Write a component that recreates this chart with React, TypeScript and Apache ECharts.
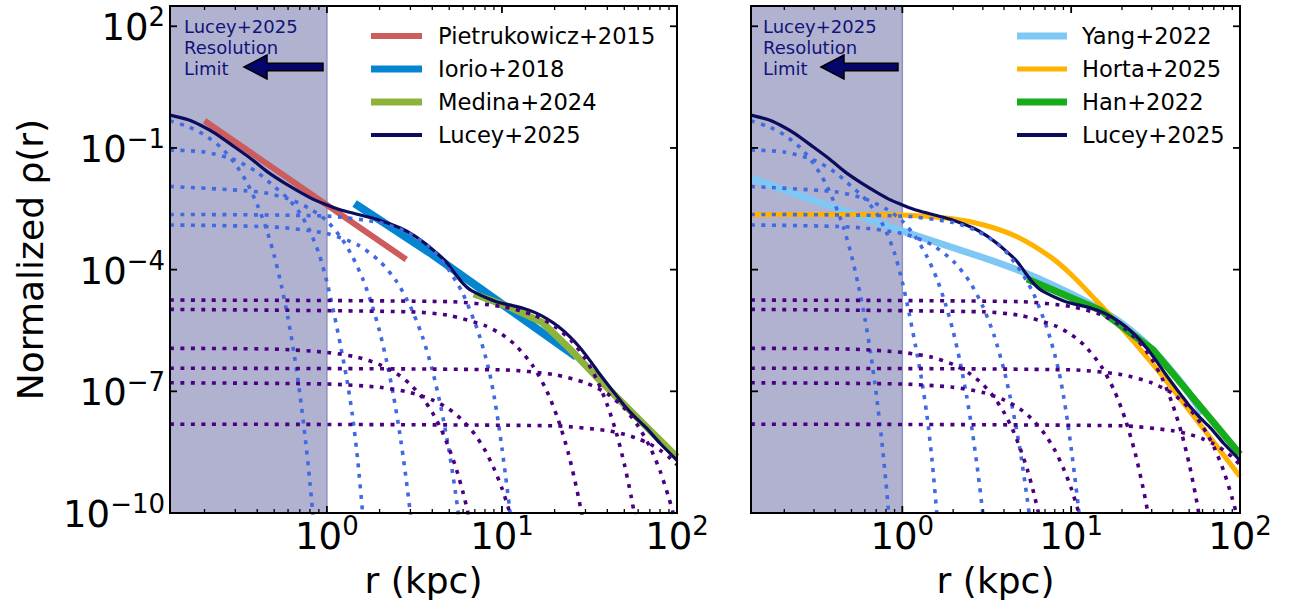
import React, { useEffect, useRef } from "react";
import * as echarts from "echarts";

type Pt = [number, number];

const FONT = '"DejaVu Sans", sans-serif';
const R_MIN = 0.127;
const R_MAX = 100;
const RHO_MIN = 1e-10;
const RHO_MAX = 316;
const RES_LIMIT = 1;

const xMajorTicks = [1, 10, 100];
const xMinorTicks = [0.2, 0.3, 0.4, 0.5, 0.6, 0.7, 0.8, 0.9, 2, 3, 4, 5, 6, 7, 8, 9, 20, 30, 40, 50, 60, 70, 80, 90];
const yMajorTicks = [1e-10, 1e-7, 1e-4, 1e-1, 1e2];
const yLabelExponents = [-10, -7, -4, -1, 2];
const xLabelExponents = [0, 1, 2];

// all curves: [r (kpc), log10 of normalized rho]
const lucey: Pt[] = [[0.127,-0.19],[0.16,-0.3],[0.19,-0.44],[0.23,-0.64],[0.296,-0.97],[0.37,-1.27],[0.458,-1.59],[0.58,-1.88],[0.71,-2.1],[0.85,-2.28],[1.01,-2.41],[1.25,-2.55],[1.57,-2.66],[2.0,-2.78],[2.65,-2.98],[3.2,-3.18],[3.86,-3.44],[4.4,-3.65],[4.81,-3.81],[5.4,-4.1],[5.99,-4.34],[6.5,-4.48],[7.14,-4.58],[8.2,-4.7],[9.29,-4.79],[11,-4.87],[13.2,-4.95],[15.5,-5.06],[17.9,-5.2],[21,-5.4],[24.4,-5.65],[28,-5.93],[31.7,-6.23],[36,-6.56],[40,-6.82],[45,-7.1],[50,-7.35],[58,-7.65],[66.8,-7.9],[80,-8.28],[100,-8.7]];

const pietrukowicz: Pt[] = [[0.2,-0.33],[2.84,-3.75]];
const iorio: Pt[] = [[1.44,-2.37],[3.86,-3.58],[26.6,-6.15]];
const medina: Pt[] = [[6.9,-4.6],[11,-4.92],[17,-5.3],[24.4,-5.95],[34.6,-6.64],[66,-7.85],[100,-8.62]];
const yang: Pt[] = [[0.127,-1.75],[1,-3.05],[3,-3.7],[5.48,-4.1],[10,-4.6],[14.9,-4.99],[20,-5.33],[30,-5.95],[40.3,-6.55],[50,-7.05],[60,-7.55]];
const horta: Pt[] = [[0.127,-2.64],[0.5,-2.64],[1,-2.65],[1.93,-2.74],[3.04,-2.9],[4.78,-3.19],[7.5,-3.68],[10,-4.12],[14,-4.75],[20,-5.45],[30,-6.3],[40,-6.95],[63.5,-8.03],[100,-9.1]];
const han: Pt[] = [[5.48,-4.23],[14.9,-5.0],[30.6,-5.98],[100,-8.55]];

// inner (blue dotted) components
const blue1: Pt[] = [[0.127,-0.33],[0.16,-0.47],[0.2,-0.68],[0.25,-1.0],[0.3,-1.4],[0.35,-1.86],[0.4,-2.4],[0.45,-2.98],[0.5,-3.65],[0.55,-4.4],[0.6,-5.2],[0.65,-6.08],[0.7,-7.05],[0.75,-8.1],[0.8,-9.25],[0.85,-10.5]];
const blue2: Pt[] = [[0.127,-1.05],[0.2,-1.1],[0.3,-1.3],[0.4,-1.6],[0.5,-1.95],[0.6,-2.25],[0.7,-2.6],[0.8,-3.05],[0.9,-3.6],[1.0,-4.3],[1.1,-5.1],[1.2,-5.9],[1.3,-6.7],[1.4,-7.6],[1.5,-8.7],[1.6,-10.0],[1.65,-10.7]];
const blue3: Pt[] = [[0.127,-1.95],[0.4,-2.08],[0.6,-2.25],[0.8,-2.5],[1.0,-2.8],[1.2,-3.2],[1.4,-3.68],[1.6,-4.22],[1.8,-4.84],[2.0,-5.52],[2.2,-6.28],[2.4,-7.1],[2.6,-8.0],[2.8,-8.98],[3.0,-10.02],[3.1,-10.6]];
const blue4: Pt[] = [[0.127,-2.9],[0.5,-2.95],[1.0,-3.11],[1.5,-3.39],[2.0,-3.79],[2.5,-4.29],[3.0,-4.91],[3.5,-5.63],[4.0,-6.47],[4.5,-7.43],[5.0,-8.49],[5.5,-9.67],[5.8,-10.43]];
const blue5: Pt[] = [[0.127,-2.64],[1,-2.68],[2,-2.84],[2.84,-3.07],[3.86,-3.44],[4.81,-3.92],[5.49,-4.3],[6,-4.6],[7,-5.3],[7.5,-5.68],[8,-6.1],[8.5,-6.55],[9,-7.1],[9.5,-7.72],[10,-8.4],[10.5,-9.1],[11,-9.8],[11.5,-10.55]];

// outer (purple dotted) components
const purple1: Pt[] = [[0.127,-4.75],[5,-4.79],[10,-4.91],[15,-5.11],[20,-5.4],[25,-5.76],[30,-6.2],[35,-6.73],[40,-7.34],[45,-8.02],[50,-8.79],[55,-9.64],[60,-10.57]];
const purple2: Pt[] = [[0.127,-4.98],[3,-5.04],[5,-5.13],[8,-5.38],[10,-5.6],[12,-5.87],[15,-6.37],[18,-6.98],[21,-7.71],[24,-8.54],[27,-9.49],[29,-10.18]];
const purple3: Pt[] = [[0.127,-5.94],[0.5,-5.96],[1,-6.04],[1.5,-6.16],[2,-6.34],[2.5,-6.56],[3,-6.83],[3.5,-7.15],[4,-7.52],[4.5,-7.94],[5,-8.42],[5.5,-8.93],[6,-9.5],[6.5,-10.12]];
const purple4: Pt[] = [[0.127,-6.43],[10,-6.47],[20,-6.59],[30,-6.79],[40,-7.06],[50,-7.42],[60,-7.86],[70,-8.37],[80,-8.96],[90,-9.64],[95,-10.0],[100,-10.39]];
const purple5: Pt[] = [[0.127,-6.79],[1,-6.82],[2,-6.9],[3,-7.03],[4,-7.21],[5,-7.44],[6,-7.73],[7,-8.06],[8,-8.45],[9,-8.9],[10,-9.39],[11,-9.94],[11.5,-10.23]];
const purple6: Pt[] = [[0.127,-7.81],[20,-7.85],[40,-7.97],[50,-8.06],[60,-8.17],[70,-8.3],[80,-8.45],[90,-8.62],[100,-8.81]];

const blueComponents = [blue1, blue2, blue3, blue4, blue5];
const purpleComponents = [purple1, purple2, purple3, purple4, purple5, purple6];

const leftLegendNames = ["Pietrukowicz+2015", "Iorio+2018", "Medina+2024", "Lucey+2025"];
const rightLegendNames = ["Yang+2022", "Horta+2025", "Han+2022", "Lucey+2025"];
const annotationText = "Lucey+2025\nResolution\nLimit";
const xTitle = "r (kpc)";
const yTitle = "Normalized ρ(r)";

const C = {
  pietrukowicz: "#cd5c5c",
  iorio: "#0485d1",
  medina: "#8db33a",
  lucey: "#0c0c5c",
  yang: "#7fc8f5",
  horta: "#ffb300",
  han: "#17ac1c",
  blueDot: "#4169e1",
  purpleDot: "#4b0082",
  shade: "#b0b2d0",
  shadeEdge: "#8f93c2",
  note: "#12127a",
};

const GRIDS = [
  { left: 170, top: 6, width: 507, height: 507 },
  { left: 751, top: 6, width: 489, height: 507 },
];

const toData = (pts: Pt[]) => pts.map(([r, l]) => [r, Math.pow(10, l)]);

const supText = (v: number, allowed: number[]) => {
  const lg = Math.log10(v);
  const e = Math.round(lg);
  if (Math.abs(lg - e) > 1e-6 || allowed.indexOf(e) < 0) return "";
  const s = e < 0 ? "\u2212" + -e : String(e);
  return `{b|10}{s|${s}}`;
};

const labelRich = {
  b: { fontSize: 37, fontFamily: FONT, color: "#000", lineHeight: 40, verticalAlign: "bottom" },
  s: { fontSize: 26, fontFamily: FONT, color: "#000", lineHeight: 26, verticalAlign: "bottom", padding: [0, 0, 16, 0] },
};

function line(name: string, pts: Pt[], gi: number, color: string, width: number, z: number, smooth: number | boolean = false, dotted = false) {
  return {
    type: "line",
    name,
    xAxisIndex: gi,
    yAxisIndex: gi,
    data: toData(pts),
    symbol: "none",
    showSymbol: false,
    silent: true,
    smooth,
    clip: true,
    z,
    lineStyle: {
      color,
      width,
      cap: "butt",
      join: "round",
      type: dotted ? [4, 6.5] : "solid",
    },
  };
}

function tickSeries(gi: number) {
  const data = [
    ...xMajorTicks.map((v) => [v, 7, 0]),
    ...xMinorTicks.map((v) => [v, 4, 0]),
    ...yMajorTicks.map((v) => [v, 7, 1]),
  ];
  return {
    type: "custom",
    xAxisIndex: gi,
    yAxisIndex: gi,
    silent: true,
    z: 20,
    data,
    renderItem: (params: any, api: any) => {
      const cs = params.coordSys;
      const v = api.value(0);
      const len = api.value(1);
      const flag = api.value(2);
      const style = { stroke: "#000", lineWidth: len > 5 ? 1.8 : 1.3 };
      if (flag === 0) {
        const x = api.coord([v, RHO_MIN])[0];
        const b = cs.y + cs.height;
        const t = cs.y;
        return {
          type: "group",
          children: [
            { type: "line", shape: { x1: x, y1: b, x2: x, y2: b - len }, style },
            { type: "line", shape: { x1: x, y1: t, x2: x, y2: t + len }, style },
          ],
        };
      }
      const y = api.coord([R_MIN, v])[1];
      const l = cs.x;
      const r = cs.x + cs.width;
      return {
        type: "group",
        children: [
          { type: "line", shape: { x1: l, y1: y, x2: l + len, y2: y }, style },
          { type: "line", shape: { x1: r, y1: y, x2: r - len, y2: y }, style },
        ],
      };
    },
  };
}

function shadeSeries(gi: number) {
  return {
    type: "line",
    xAxisIndex: gi,
    yAxisIndex: gi,
    data: [],
    silent: true,
    z: 1,
    markArea: {
      silent: true,
      label: { show: false },
      itemStyle: { color: C.shade, borderColor: C.shadeEdge, borderWidth: 1.5 },
      data: [[{ xAxis: R_MIN, yAxis: RHO_MIN }, { xAxis: RES_LIMIT, yAxis: RHO_MAX }]],
    },
  };
}

function componentSeries(gi: number) {
  const out: any[] = [];
  blueComponents.forEach((c, i) => out.push(line("inner" + i, c, gi, C.blueDot, 3.6, 6, 0.25, true)));
  purpleComponents.forEach((c, i) => out.push(line("outer" + i, c, gi, C.purpleDot, 3.6, 6, 0.25, true)));
  return out;
}

function legendGraphics(x1: number, x2: number, tx: number, names: string[], colors: string[], widths: number[]) {
  const ys = [36, 69, 102, 135];
  const els: any[] = [];
  names.forEach((n, i) => {
    els.push({ type: "line", z: 30, shape: { x1, y1: ys[i], x2, y2: ys[i] }, style: { stroke: colors[i], lineWidth: widths[i] } });
    els.push({ type: "text", z: 30, x: tx, y: ys[i], style: { text: n, font: `22.6px ${FONT}`, fill: "#000", verticalAlign: "middle", align: "left" } });
  });
  return els;
}

function arrow(tip: number, neck: number, tail: number, cy: number) {
  return {
    type: "polygon",
    z: 30,
    shape: {
      points: [
        [tip, cy],
        [neck, cy - 12],
        [neck, cy - 3.8],
        [tail, cy - 3.8],
        [tail, cy + 3.8],
        [neck, cy + 3.8],
        [neck, cy + 12],
      ],
    },
    style: { fill: "#06066a", stroke: "#000", lineWidth: 1.5 },
  };
}

function note(x: number) {
  return {
    type: "text",
    z: 30,
    x,
    y: 16,
    style: { text: annotationText, font: `18px ${FONT}`, fill: C.note, lineHeight: 21, align: "left", verticalAlign: "top" },
  };
}

function buildOption() {
  const xAxes = GRIDS.map((_, gi) => ({
    type: "log",
    logBase: 10,
    gridIndex: gi,
    min: R_MIN,
    max: R_MAX,
    name: xTitle,
    nameLocation: "middle",
    nameGap: 49,
    nameTextStyle: { fontSize: 36, fontFamily: FONT, color: "#000" },
    axisLine: { show: false },
    axisTick: { show: false },
    splitLine: { show: false },
    axisLabel: {
      show: true,
      showMinLabel: false,
      margin: 2,
      formatter: (v: number) => supText(v, xLabelExponents),
      rich: labelRich,
    },
  }));
  const yAxes = GRIDS.map((_, gi) => ({
    type: "log",
    logBase: 10,
    gridIndex: gi,
    min: RHO_MIN,
    max: RHO_MAX,
    interval: 1,
    name: gi === 0 ? yTitle : "",
    nameLocation: "middle",
    nameGap: 122,
    nameRotate: 90,
    nameTextStyle: { fontSize: 36, fontFamily: FONT, color: "#000" },
    axisLine: { show: false },
    axisTick: { show: false },
    splitLine: { show: false },
    axisLabel: {
      show: gi === 0,
      showMaxLabel: false,
      margin: 5,
      formatter: (v: number) => supText(v, yLabelExponents),
      rich: labelRich,
    },
  }));

  const series: any[] = [];
  series.push(shadeSeries(0));
  series.push(line("Pietrukowicz+2015", pietrukowicz, 0, C.pietrukowicz, 6, 3));
  series.push(line("Iorio+2018", iorio, 0, C.iorio, 8, 3));
  series.push(line("Medina+2024", medina, 0, C.medina, 7, 3));
  series.push(line("Lucey+2025", lucey, 0, C.lucey, 3.2, 4, 0.2));
  series.push(...componentSeries(0));
  series.push(tickSeries(0));
  series.push(shadeSeries(1));
  series.push(line("Yang+2022", yang, 1, C.yang, 7, 3, 0.2));
  series.push(line("Horta+2025", horta, 1, C.horta, 5, 3, 0.3));
  series.push(line("Han+2022", han, 1, C.han, 7, 3));
  series.push(line("Lucey+2025 ", lucey, 1, C.lucey, 3.2, 4, 0.2));
  series.push(...componentSeries(1));
  series.push(tickSeries(1));

  const graphics: any[] = [
    ...legendGraphics(371, 422, 438, leftLegendNames, [C.pietrukowicz, C.iorio, C.medina, C.lucey], [6, 7, 7, 4]),
    ...legendGraphics(1017, 1067, 1082, rightLegendNames, [C.yang, C.horta, C.han, C.lucey], [7, 5, 7, 4]),
    note(184),
    note(763),
    arrow(244, 267, 323, 67),
    arrow(821, 844, 898, 67),
  ];

  return {
    animation: false,
    backgroundColor: "#fff",
    textStyle: { fontFamily: FONT },
    grid: GRIDS.map((g) => ({ ...g, show: true, borderColor: "#000", borderWidth: 2, backgroundColor: "transparent", z: 10, containLabel: false })),
    xAxis: xAxes,
    yAxis: yAxes,
    series,
    graphic: graphics,
  };
}

export default function App() {
  const ref = useRef<HTMLDivElement>(null);
  useEffect(() => {
    if (!ref.current) return;
    const chart = echarts.init(ref.current, null, { renderer: "svg" });
    chart.setOption(buildOption() as any);
    return () => chart.dispose();
  }, []);
  return <div ref={ref} style={{ position: "absolute", left: 0, top: 0, width: 1298, height: 605 }} />;
}
